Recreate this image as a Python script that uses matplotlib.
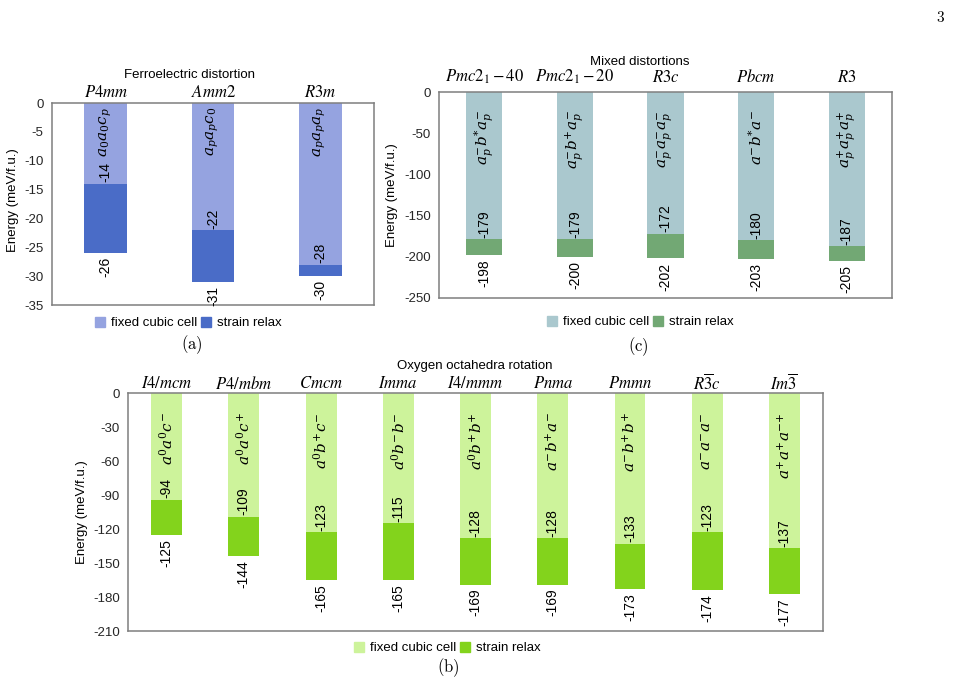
import matplotlib
matplotlib.use("Agg")
import matplotlib.pyplot as plt
from matplotlib.patches import Patch
import numpy as np

plt.rcParams['font.family'] = ['Liberation Sans', 'DejaVu Sans']

# ---------------- data ----------------
a_cats = [r'$P4mm$', r'$Amm2$', r'$R3m$']
a_tilts = [r'$a_0a_0c_p$', r'$a_pa_pc_0$', r'$a_pa_pa_p$']
a_fixed = [-14, -22, -28]
a_strain = [-26, -31, -30]

c_cats = [r'$Pmc2_1-40$', r'$Pmc2_1-20$', r'$R3c$', r'$Pbcm$', r'$R3$']
c_tilts = [r'$a_p^{-}b^{*}a_p^{-}$', r'$a_p^{-}b^{+}a_p^{-}$', r'$a_p^{-}a_p^{-}a_p^{-}$',
           r'$a^{-}b^{*}a^{-}$', r'$a_p^{+}a_p^{+}a_p^{+}$']
c_fixed = [-179, -179, -172, -180, -187]
c_strain = [-198, -200, -202, -203, -205]

b_cats = [r'$I4/mcm$', r'$P4/mbm$', r'$Cmcm$', r'$Imma$', r'$I4/mmm$',
          r'$Pnma$', r'$Pmmn$', r'$R\overline{3}c$', r'$Im\overline{3}$']
b_tilts = [r'$a^0a^0c^{-}$', r'$a^0a^0c^{+}$', r'$a^0b^{+}c^{-}$', r'$a^0b^{-}b^{-}$',
           r'$a^0b^{+}b^{+}$', r'$a^{-}b^{+}a^{-}$', r'$a^{-}b^{+}b^{+}$', r'$a^{-}a^{-}a^{-}$',
           r'$a^{+}a^{+}a^{{-}{+}}$']
b_fixed = [-94, -109, -123, -115, -128, -128, -133, -123, -137]
b_strain = [-125, -144, -165, -165, -169, -169, -173, -174, -177]

W, H = 964, 686
fig = plt.figure(figsize=(W / 100, H / 100), dpi=100)


def rect(l, t, r, b):
    return [l / W, 1 - b / H, (r - l) / W, (b - t) / H]


def fx(x):
    return x / W


def fy(y):
    return 1 - y / H


def panel(box, cats, tilts, fixed, strain, ylim, yticks, cfix, cstr,
          cat_off, tilt_off):
    ax = fig.add_axes(rect(*box))
    x = np.arange(len(cats))
    fixed = np.array(fixed)
    strain = np.array(strain)
    ax.bar(x, fixed, width=0.4, color=cfix, zorder=2)
    ax.bar(x, strain - fixed, bottom=fixed, width=0.4, color=cstr, zorder=2)
    ax.set_xlim(-0.5, len(cats) - 0.5)
    ax.set_ylim(*ylim)
    ax.set_yticks(yticks)
    ax.set_yticklabels([str(v) for v in yticks])
    ax.tick_params(axis='y', length=0, pad=6, labelsize=9.5, colors='#262626')
    ax.set_xticks([])
    for s in ax.spines.values():
        s.set_color('#7f7f7f')
        s.set_linewidth(1.1)
    for i in range(len(cats)):
        ax.annotate(cats[i], xy=(i, 1), xycoords=('data', 'axes fraction'),
                    xytext=(0, cat_off), textcoords='offset points',
                    ha='center', va='center', fontsize=12,
                    math_fontfamily='stix')
        ax.annotate(tilts[i], xy=(i, 0), xycoords='data',
                    xytext=(0, -tilt_off), textcoords='offset points',
                    ha='center', va='top', rotation=90, fontsize=11,
                    math_fontfamily='dejavuserif')
        ax.annotate(str(fixed[i]), xy=(i, fixed[i]), xytext=(0, 1),
                    textcoords='offset points', ha='center', va='bottom',
                    rotation=90, fontsize=10)
        ax.annotate(str(strain[i]), xy=(i, strain[i]), xytext=(0, -3),
                    textcoords='offset points', ha='center', va='top',
                    rotation=90, fontsize=10)
    return ax


panel((52, 103, 374, 305), a_cats, a_tilts, a_fixed, a_strain,
      (-35, 0), list(range(0, -36, -5)), '#95A3E0', '#4A6CC7', 8, 3)
panel((439, 92, 892, 298), c_cats, c_tilts, c_fixed, c_strain,
      (-250, 0), list(range(0, -251, -50)), '#AAC8CE', '#72A874', 11, 13)
panel((128, 393, 823, 631), b_cats, b_tilts, b_fixed, b_strain,
      (-210, 0), list(range(0, -211, -30)), '#CDF39B', '#83D31C', 7, 14)

# titles
fig.text(fx(189), fy(75), 'Ferroelectric distortion', ha='center', va='center', fontsize=9.5)
fig.text(fx(640), fy(62), 'Mixed distortions', ha='center', va='center', fontsize=9.5)
fig.text(fx(475), fy(366), 'Oxygen octahedra rotation', ha='center', va='center', fontsize=9.5)

# y labels
fig.text(fx(13), fy(200), 'Energy (meV/f.u.)', rotation=90, ha='center', va='center', fontsize=9.5)
fig.text(fx(392), fy(195), 'Energy (meV/f.u.)', rotation=90, ha='center', va='center', fontsize=9.5)
fig.text(fx(82), fy(512), 'Energy (meV/f.u.)', rotation=90, ha='center', va='center', fontsize=9.5)

# legends
for (cx, cy, cf, cs) in [(188, 323, '#95A3E0', '#4A6CC7'),
                         (640, 322, '#AAC8CE', '#72A874'),
                         (447, 648, '#CDF39B', '#83D31C')]:
    fig.legend(handles=[Patch(color=cf, label='fixed cubic cell'),
                        Patch(color=cs, label='strain relax')],
               loc='center', bbox_to_anchor=(fx(cx), fy(cy)), ncol=2,
               frameon=False, fontsize=9.5, handlelength=0.8, handleheight=0.8,
               handletextpad=0.4, columnspacing=0.3, borderpad=0)

# sub captions
for (cx, cy, t) in [(192, 345, '(a)'), (638, 347, '(c)'), (448, 668, '(b)')]:
    fig.text(fx(cx), fy(cy), r'$\mathrm{' + t + '}$', ha='center', va='center',
             fontsize=12, math_fontfamily='cm')

fig.text(fx(941), fy(18), r'$\mathrm{3}$', ha='center', va='center',
         fontsize=11, math_fontfamily='cm')

fig.savefig('out.png', dpi=100)
